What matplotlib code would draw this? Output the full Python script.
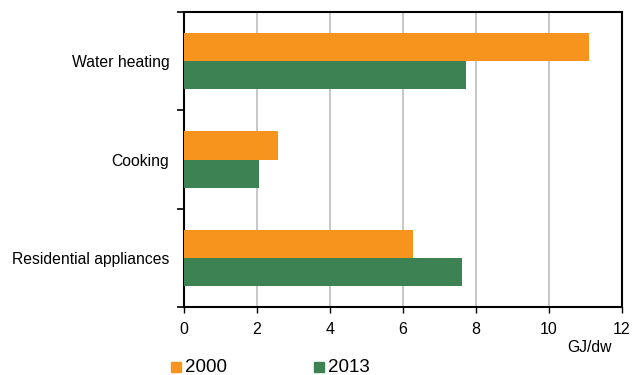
import numpy as np
import matplotlib.pyplot as plt
from matplotlib.patches import Rectangle

plt.rcParams['font.family'] = ['Liberation Sans', 'DejaVu Sans']

categories = ["Water heating", "Cooking", "Residential appliances"]
years = ["2000", "2013"]
values_2000 = [11.09, 2.57, 6.28]
values_2013 = [7.74, 2.05, 7.61]
x_ticks = [0, 2, 4, 6, 8, 10, 12]

col_2000 = "#F7941D"
col_2013 = "#3C8253"

fig = plt.figure(figsize=(6.44, 3.75), dpi=100)
ax = fig.add_axes([0.2857, 0.1813, 0.6801, 0.7867])

pos = np.arange(len(categories))
h = 0.285
ax.barh(pos - h / 2, values_2000, height=h, color=col_2000, zorder=3)
ax.barh(pos + h / 2, values_2013, height=h, color=col_2013, zorder=3)

ax.set_ylim(len(categories) - 0.5, -0.5)
ax.set_xlim(0, 12)
ax.set_xticks(x_ticks)
ax.set_xticklabels([str(t) for t in x_ticks], fontsize=11.5)
ax.set_yticks(pos)
ax.set_yticklabels(categories, fontsize=11.3)
ax.tick_params(axis='y', length=0, pad=10.5)
ax.set_yticks(np.arange(len(categories) + 1) - 0.5, minor=True)
ax.tick_params(axis='y', which='minor', length=5, width=1.2, direction='out')
ax.tick_params(axis='x', length=4, width=1, direction='out', pad=7)
ax.grid(axis='x', color='#BDBDBD', linewidth=1.2, zorder=0)
for s in ax.spines.values():
    s.set_linewidth(1.5)
    s.set_color('black')

fig.text(612 / 644, 1 - 348 / 375, "GJ/dw", ha='right', va='center', fontsize=11.3)

# legend below plot
leg = [(171, years[0], col_2000), (314, years[1], col_2013)]
for x0, lab, c in leg:
    fig.patches.append(Rectangle((x0 / 644, 1 - 372 / 375), 10 / 644, 10 / 375,
                                 transform=fig.transFigure, color=c))
    fig.text((x0 + 14) / 644, 1 - 367 / 375, lab, ha='left', va='center', fontsize=13.5)

fig.savefig("out.png", dpi=100)
